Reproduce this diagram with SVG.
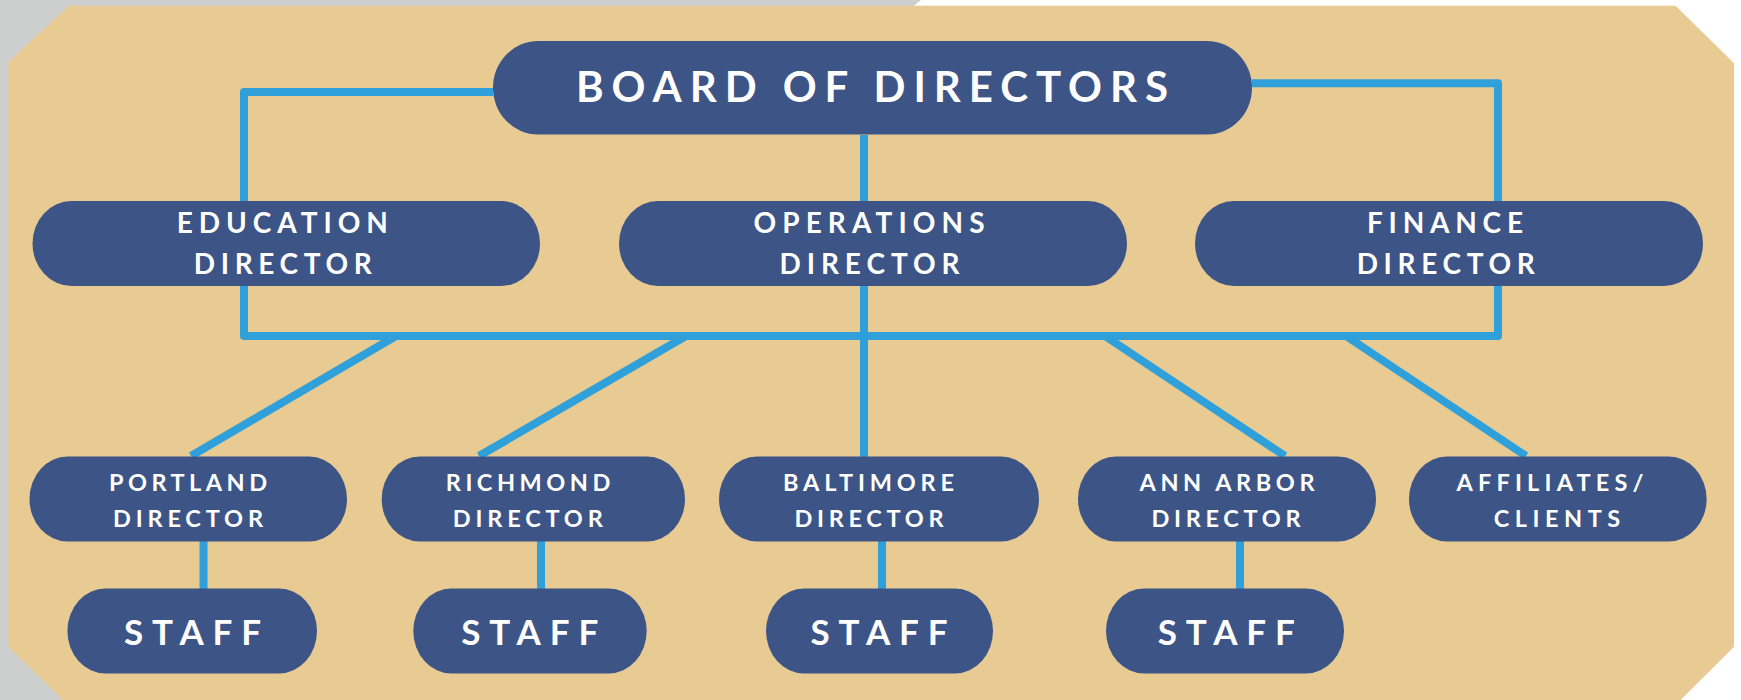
<svg xmlns="http://www.w3.org/2000/svg" width="1741" height="700" viewBox="0 0 1741 700">
<style>
.node{fill:#3D5487}
.lbl{fill:#FFFFFF;font-family:Lato,"Open Sans","Liberation Sans",sans-serif;font-weight:700;text-anchor:middle}
.b{font-size:42px}
.m{font-size:28px}
.s{font-size:23.5px}
.st{font-size:35px}
.con{fill:none;stroke:#2FA0DA;stroke-width:8;stroke-linejoin:round}
</style>
<rect width="1741" height="700" fill="#FFFFFF"/>
<polygon points="0,0 921,0 75,700 0,700" fill="#CDCFCF"/>
<polygon points="8.4,62 69,5.7 1675.6,5.7 1734,63.3 1734,646.7 1680.6,700 63,700 8.4,646.7" fill="#E8CB92"/>
<g id="connectors" class="con">
<path d="M493,92 H244 V336 H1498 V83.3 H1252"/>
<path d="M864,135 V457"/>
<path d="M396,336 L191,456"/>
<path d="M686,336 L479,456"/>
<path d="M1105,336 L1285,456"/>
<path d="M1346,336 L1526,456"/>
<path d="M203.5,541 V589"/>
<path d="M541,541 V589"/>
<path d="M882,541 V589"/>
<path d="M1240,541 V589"/>
</g>
<g id="board">
<rect class="node" x="493" y="41" width="759" height="93.5" rx="45" ry="46.7"/>
<text class="lbl b" x="872" y="102.3" textLength="592" lengthAdjust="spacing">BOARD OF DIRECTORS</text>
</g>
<g id="education">
<rect class="node" x="32.5" y="201" width="507.5" height="85" rx="39" ry="42.5"/>
<text class="lbl m" x="282.3" y="233.3" textLength="211" lengthAdjust="spacing">EDUCATION</text>
<text class="lbl m" x="282.8" y="274" textLength="178" lengthAdjust="spacing">DIRECTOR</text>
</g>
<g id="operations">
<rect class="node" x="619" y="201" width="508" height="85" rx="39" ry="42.5"/>
<text class="lbl m" x="869" y="233.3" textLength="231" lengthAdjust="spacing">OPERATIONS</text>
<text class="lbl m" x="869.5" y="274" textLength="180" lengthAdjust="spacing">DIRECTOR</text>
</g>
<g id="finance">
<rect class="node" x="1195" y="201" width="508" height="85" rx="39" ry="42.5"/>
<text class="lbl m" x="1445" y="233.3" textLength="156" lengthAdjust="spacing">FINANCE</text>
<text class="lbl m" x="1445.7" y="274" textLength="178" lengthAdjust="spacing">DIRECTOR</text>
</g>
<g id="portland">
<rect class="node" x="29.5" y="456.5" width="317.5" height="85" rx="38" ry="42.5"/>
<text class="lbl s" x="188" y="490.7" textLength="158" lengthAdjust="spacing">PORTLAND</text>
<text class="lbl s" x="188" y="526.5" textLength="150" lengthAdjust="spacing">DIRECTOR</text>
</g>
<g id="richmond">
<rect class="node" x="381.7" y="456.5" width="303.3" height="85" rx="38" ry="42.5"/>
<text class="lbl s" x="528" y="490.7" textLength="164.5" lengthAdjust="spacing">RICHMOND</text>
<text class="lbl s" x="527.8" y="526.5" textLength="150" lengthAdjust="spacing">DIRECTOR</text>
</g>
<g id="baltimore">
<rect class="node" x="719" y="456.5" width="320" height="85" rx="38" ry="42.5"/>
<text class="lbl s" x="868.5" y="490.7" textLength="171" lengthAdjust="spacing">BALTIMORE</text>
<text class="lbl s" x="869" y="526.5" textLength="149" lengthAdjust="spacing">DIRECTOR</text>
</g>
<g id="annarbor">
<rect class="node" x="1078" y="456.5" width="298" height="85" rx="38" ry="42.5"/>
<text class="lbl s" x="1227" y="490.7" textLength="175" lengthAdjust="spacing">ANN ARBOR</text>
<text class="lbl s" x="1226" y="526.5" textLength="149" lengthAdjust="spacing">DIRECTOR</text>
</g>
<g id="affiliates">
<rect class="node" x="1409" y="456.5" width="297.6" height="85" rx="38" ry="42.5"/>
<text class="lbl s" x="1550" y="490.7" textLength="187" lengthAdjust="spacing">AFFILIATES/</text>
<text class="lbl s" x="1557" y="526.5" textLength="126.5" lengthAdjust="spacing">CLIENTS</text>
</g>
<g id="staff1">
<rect class="node" x="67.4" y="588.5" width="249.6" height="85" rx="38" ry="42.5"/>
<text class="lbl st" x="192.5" y="645" textLength="137" lengthAdjust="spacing">STAFF</text>
</g>
<g id="staff2">
<rect class="node" x="413.3" y="588.5" width="233.4" height="85" rx="38" ry="42.5"/>
<text class="lbl st" x="529.7" y="645" textLength="137" lengthAdjust="spacing">STAFF</text>
</g>
<g id="staff3">
<rect class="node" x="766" y="588.5" width="227" height="85" rx="38" ry="42.5"/>
<text class="lbl st" x="879" y="645" textLength="137" lengthAdjust="spacing">STAFF</text>
</g>
<g id="staff4">
<rect class="node" x="1106" y="588.5" width="238" height="85" rx="38" ry="42.5"/>
<text class="lbl st" x="1226.3" y="645" textLength="137" lengthAdjust="spacing">STAFF</text>
</g>
</svg>
